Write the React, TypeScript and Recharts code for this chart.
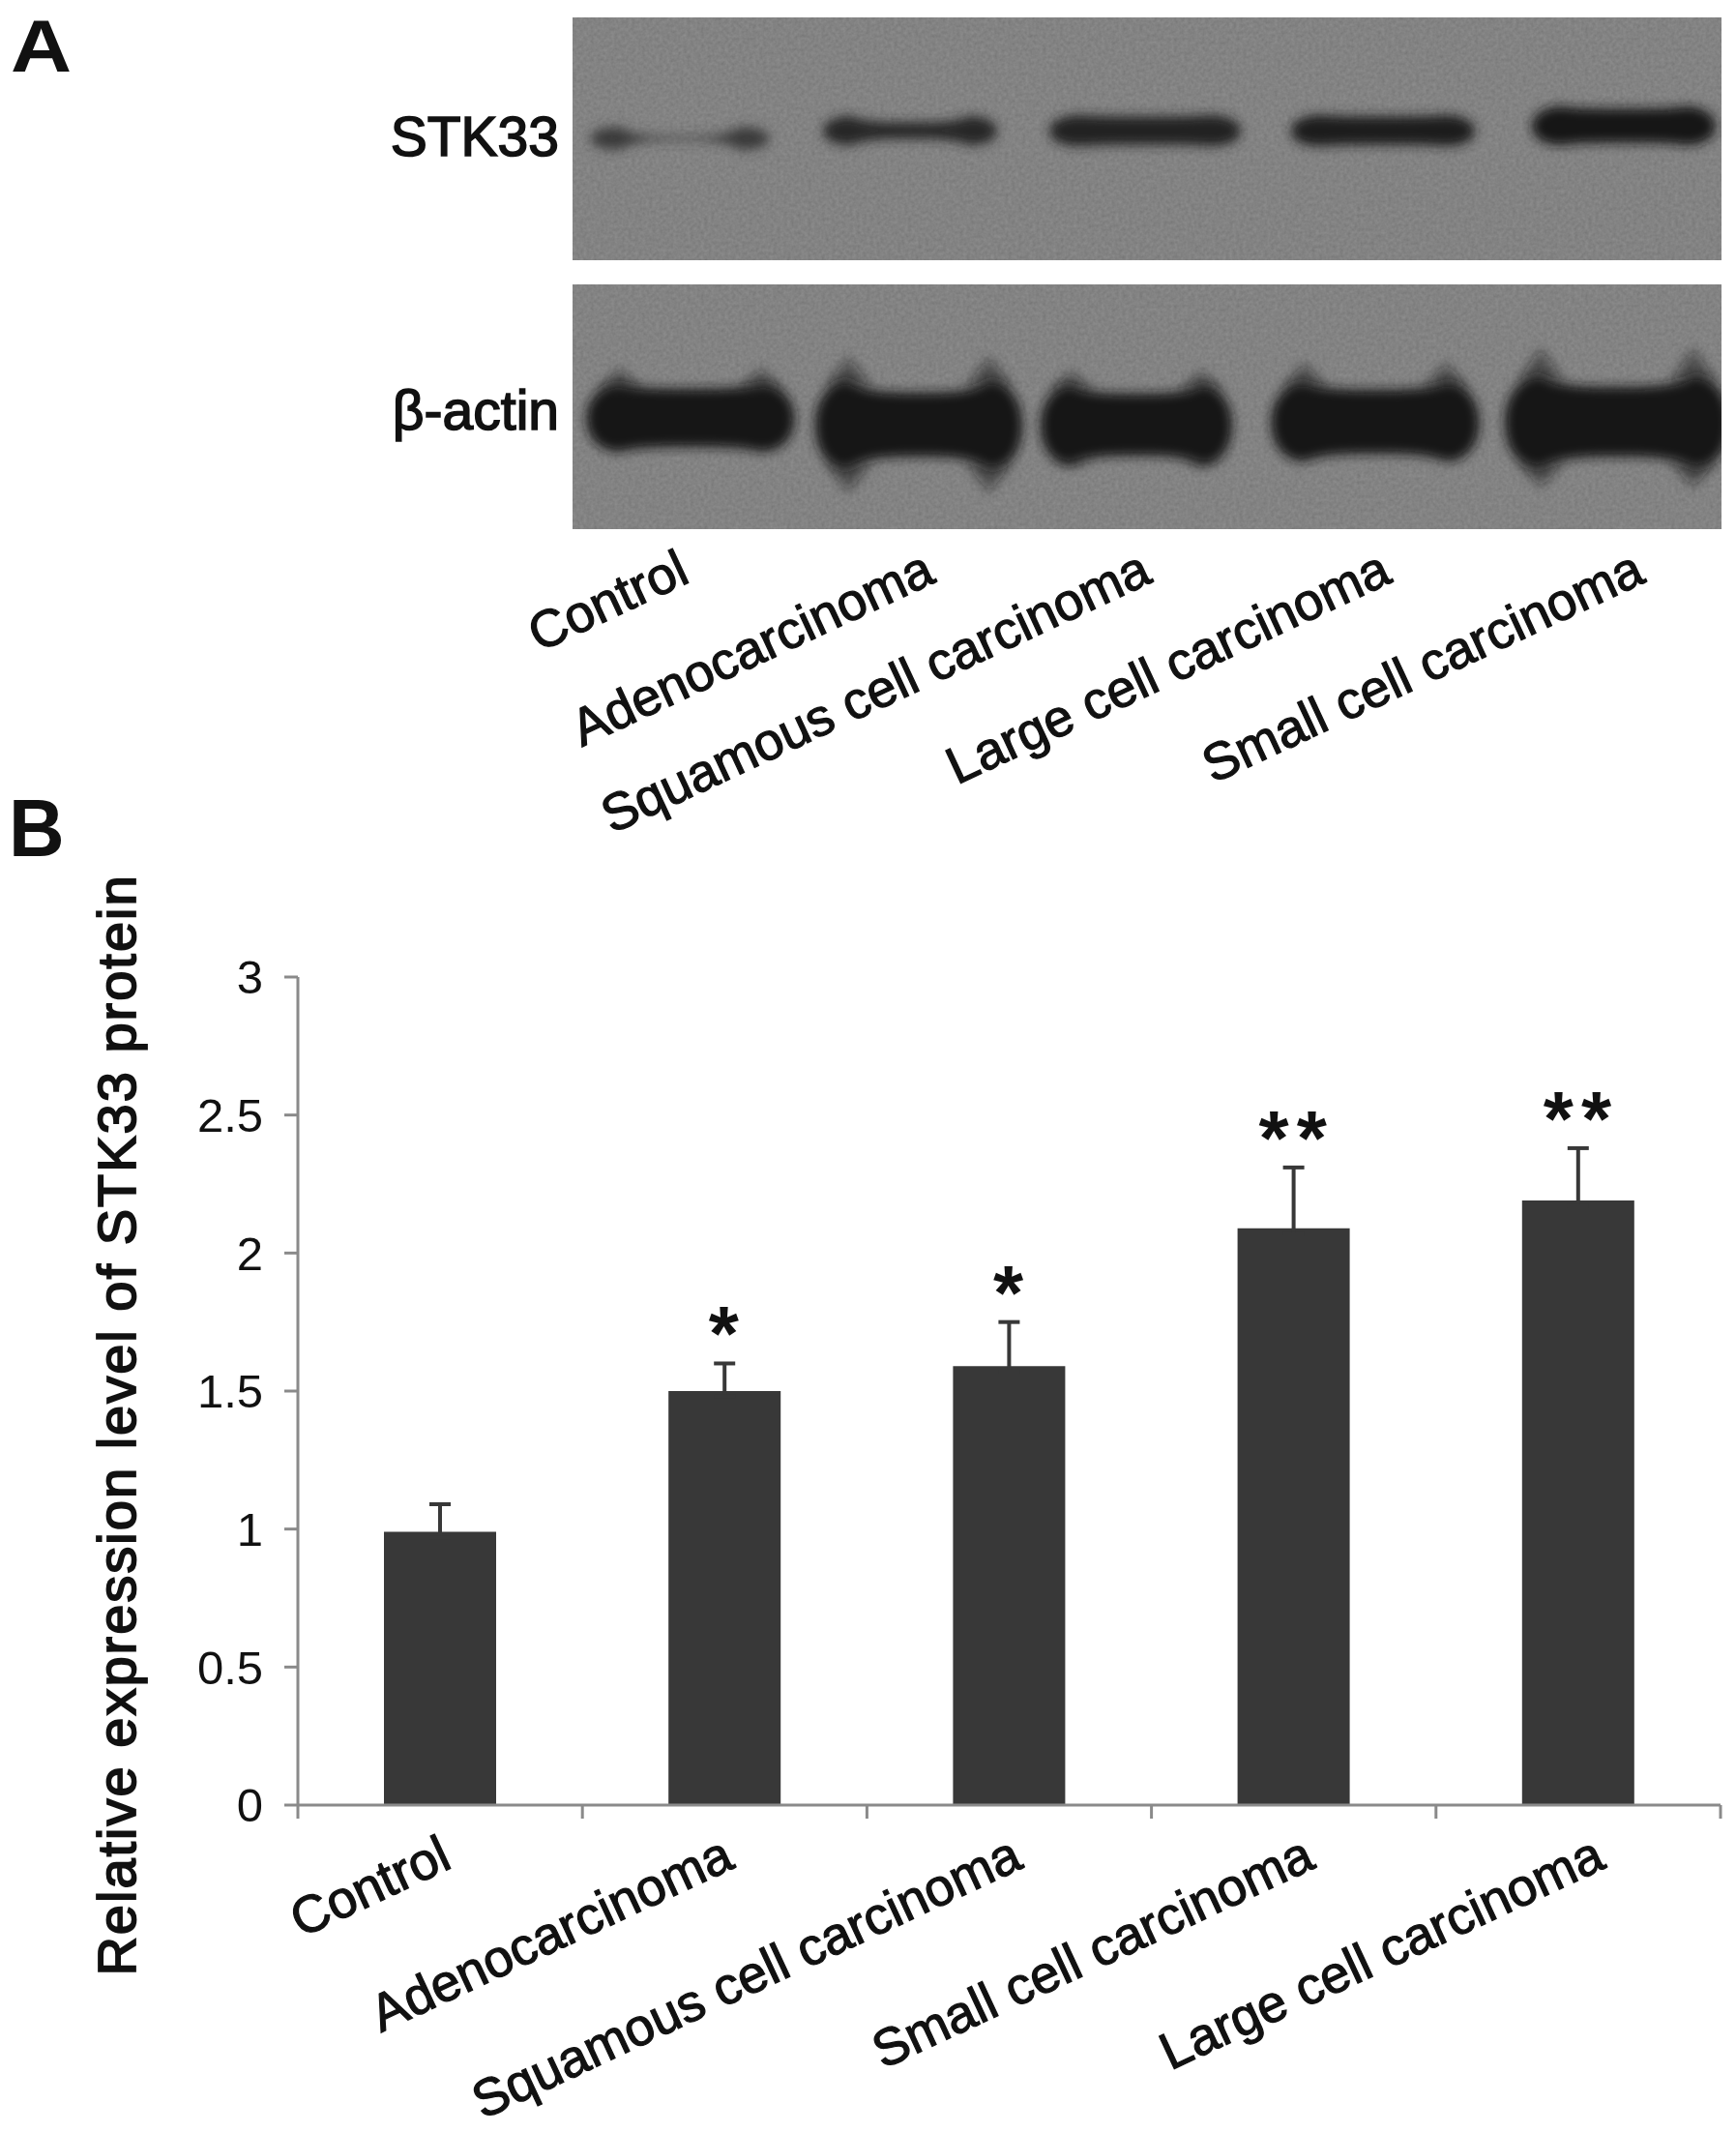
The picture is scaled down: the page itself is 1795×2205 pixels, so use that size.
import React from "react";
import {
  Bar,
  ComposedChart,
  ErrorBar,
  LabelList,
  Line,
  ReferenceArea,
  Scatter,
  ScatterChart,
  XAxis,
  YAxis,
} from "recharts";

const FONT = '"Liberation Sans", Arial, sans-serif';
const INK = "#111111";
const AXIS_GREY = "#8a8a8a";

// panel B
const categories = [
  "Control",
  "Adenocarcinoma",
  "Squamous cell carcinoma",
  "Small cell carcinoma",
  "Large cell carcinoma",
];
const expression = [0.99, 1.5, 1.59, 2.09, 2.19];
const errorUp = [0.1, 0.1, 0.16, 0.22, 0.19];
const stars = ["", "*", "*", "**", "**"];
const yTicks = [0, 0.5, 1, 1.5, 2, 2.5, 3];
const edgeTicks = [0, 1, 2, 3, 4, 5];

// panel A, measured along the membrane
const blotLabels = [
  "Control",
  "Adenocarcinoma",
  "Squamous cell carcinoma",
  "Large cell carcinoma",
  "Small cell carcinoma",
];
const blotLabelTicks = [123, 377, 601, 849, 1111];
const stkLane = [111, 349, 592, 838, 1087];
const stkSpan = [185, 180, 198, 190, 190];
const stkRow = [125, 117, 117, 117, 112];
const stkEdge = [24, 30, 32, 32, 40];
const stkMid = [4, 17, 29, 29, 35];
const stkTone = ["#3a3a3a", "#262626", "#202020", "#1c1c1c", "#181818"];
const stkWispUp = [0, 0, 0, 0, 0];
const stkWispDown = [0, 0, 0, 0, 0];
const actinLane = [122, 358, 583, 830, 1080];
const actinSpan = [215, 214, 198, 215, 232];
const actinRow = [138, 145, 145, 142, 142];
const actinEdge = [70, 92, 82, 82, 96];
const actinMid = [60, 66, 64, 66, 72];
const actinTone = ["#161616", "#161616", "#161616", "#161616", "#161616"];
const actinWispUp = [22, 30, 20, 26, 34];
const actinWispDown = [0, 30, 8, 0, 26];

// the labels of panel B do not sit quite under their bars in the original
const nameNudge = [-2, -4, 0, 8, 14];

const barData = categories.map((name, i) => ({
  name,
  edge: i,
  expression: expression[i],
  errorRange: [0.02, errorUp[i]],
  errorTop: expression[i] + errorUp[i],
  star: stars[i],
}));

const zip = (
  lane: number[],
  span: number[],
  row: number[],
  edge: number[],
  mid: number[],
  tone: string[],
  up: number[],
  down: number[]
) =>
  lane.map((v, i) => ({
    lane: v,
    span: span[i],
    row: row[i],
    edge: edge[i],
    mid: mid[i],
    tone: tone[i],
    up: up[i],
    down: down[i],
  }));

const stkData = zip(stkLane, stkSpan, stkRow, stkEdge, stkMid, stkTone, stkWispUp, stkWispDown);
const actinData = zip(actinLane, actinSpan, actinRow, actinEdge, actinMid, actinTone, actinWispUp, actinWispDown);

// a western blot band: wide at both lane edges, pinched in the middle
function BlotBand(props: any) {
  const { cx, cy, payload, clipId, blurId } = props;
  const w = payload.span;
  const e = payload.edge / 2;
  const m = payload.mid / 2;
  const l = cx - w / 2;
  const r = cx + w / 2;
  const h = w * 0.16;
  const d = [
    `M ${l} ${cy}`,
    `C ${l} ${cy - e * 0.6} ${l + h * 0.5} ${cy - e} ${l + h} ${cy - e}`,
    `C ${l + h * 1.5} ${cy - m} ${cx - w * 0.15} ${cy - m} ${cx} ${cy - m}`,
    `C ${cx + w * 0.15} ${cy - m} ${r - h * 1.5} ${cy - m} ${r - h} ${cy - e}`,
    `C ${r - h * 0.5} ${cy - e} ${r} ${cy - e * 0.6} ${r} ${cy}`,
    `C ${r} ${cy + e * 0.7} ${r - h * 0.5} ${cy + e} ${r - h} ${cy + e}`,
    `C ${r - h * 1.6} ${cy + m} ${cx + w * 0.15} ${cy + m} ${cx} ${cy + m}`,
    `C ${cx - w * 0.15} ${cy + m} ${l + h * 1.6} ${cy + m} ${l + h} ${cy + e}`,
    `C ${l + h * 0.5} ${cy + e} ${l} ${cy + e * 0.7} ${l} ${cy} Z`,
  ].join(" ");
  const wisp = (px: number, base: number, len: number) =>
    len !== 0 ? `M ${px - 24} ${base} L ${px} ${base + len} L ${px + 24} ${base} Z ` : "";
  const wisps =
    wisp(l + h, cy - e + 6, -payload.up) +
    wisp(r - h, cy - e + 6, -payload.up) +
    wisp(l + h, cy + e - 6, payload.down) +
    wisp(r - h, cy + e - 6, payload.down);
  return (
    <g clipPath={`url(#${clipId})`}>
      {wisps && <path d={wisps} fill={payload.tone} fillOpacity={0.5} filter={`url(#${blurId})`} />}
      <path d={d} fill={payload.tone} filter={`url(#${blurId})`} />
    </g>
  );
}

function SlantedTick(props: any) {
  const { x, y, payload, names, values, dx, dy, fontSize, index, nudge } = props;
  const label = names ? names[values.indexOf(payload.value)] : payload.value;
  const shift = nudge ? nudge[index] : 0;
  return (
    <text
      transform={`translate(${x + dx + shift},${y + dy}) rotate(-25)`}
      textAnchor="end"
      fontFamily={FONT}
      fontSize={fontSize}
      fill={INK}
      stroke={INK}
      strokeWidth={1.2}
    >
      {label}
    </text>
  );
}

function BlotDefs({ id, blur, x, width, height }: any) {
  return (
    <defs>
      <clipPath id={`clip-${id}`}>
        <rect x={x} y={0} width={width} height={height} />
      </clipPath>
      <filter id={`blur-${id}`} x="-30%" y="-100%" width="160%" height="300%">
        <feGaussianBlur stdDeviation={blur} />
      </filter>
      <filter id={`grain-${id}`} x="0" y="0" width="1" height="1">
        <feTurbulence type="fractalNoise" baseFrequency="0.28" numOctaves="2" seed="4" result="n" />
        <feColorMatrix
          in="n"
          type="matrix"
          values="1 0 0 0 0  1 0 0 0 0  1 0 0 0 0  0 0 0 0 0.1"
          result="g"
        />
        <feMerge>
          <feMergeNode in="SourceGraphic" />
          <feMergeNode in="g" />
        </feMerge>
      </filter>
    </defs>
  );
}

const blotYTick = (label: string) => (props: any) => (
  <text
    x={props.x}
    y={props.y}
    dy={20}
    textAnchor="end"
    fontFamily={FONT}
    fontSize={57}
    fill={INK}
    stroke={INK}
    strokeWidth={1.6}
  >
    {label}
  </text>
);

const axisStyle = { stroke: AXIS_GREY, strokeWidth: 3 };

export default function App() {
  return (
    <div style={{ position: "absolute", left: 0, top: 0, width: 1795, height: 2205, background: "#fff" }}>
      <div
        style={{
          position: "absolute",
          left: 11,
          top: 10,
          fontFamily: FONT,
          fontWeight: 700,
          fontSize: 76,
          lineHeight: 1,
          color: INK,
          transform: "scaleX(1.15)",
          transformOrigin: "left top",
        }}
      >
        A
      </div>
      <div
        style={{
          position: "absolute",
          left: 9,
          top: 814,
          fontFamily: FONT,
          fontWeight: 700,
          fontSize: 84,
          lineHeight: 1,
          color: INK,
          transform: "scaleX(0.95)",
          transformOrigin: "left top",
        }}
      >
        B
      </div>

      <div style={{ position: "absolute", left: 0, top: 18 }}>
        <ScatterChart width={1795} height={251} margin={{ top: 0, right: 15, bottom: 0, left: 0 }}>
          <BlotDefs id="stk" blur={6} x={592} width={1188} height={251} />
          <XAxis type="number" dataKey="lane" domain={[0, 1188]} hide />
          <YAxis
            type="number"
            dataKey="row"
            domain={[0, 251]}
            reversed
            width={592}
            ticks={[123]}
            axisLine={false}
            tickLine={false}
            tickMargin={8}
            tick={blotYTick("STK33")}
          />
          <ReferenceArea x1={0} x2={1188} y1={0} y2={251} fill="#7a7a7a" fillOpacity={1} stroke="none" filter="url(#grain-stk)" />
          <Scatter
            data={stkData}
            isAnimationActive={false}
            shape={(p: any) => <BlotBand {...p} clipId="clip-stk" blurId="blur-stk" />}
          />
        </ScatterChart>
      </div>

      <div style={{ position: "absolute", left: 0, top: 294 }}>
        <ScatterChart width={1795} height={588} margin={{ top: 0, right: 15, bottom: 0, left: 0 }}>
          <BlotDefs id="actin" blur={6} x={592} width={1188} height={253} />
          <XAxis
            type="number"
            dataKey="lane"
            domain={[0, 1188]}
            ticks={blotLabelTicks}
            interval={0}
            height={335}
            axisLine={false}
            tickLine={false}
            tick={(p: any) => (
              <SlantedTick {...p} names={blotLabels} values={blotLabelTicks} dx={0} dy={46} fontSize={54} />
            )}
          />
          <YAxis
            type="number"
            dataKey="row"
            domain={[0, 253]}
            reversed
            width={592}
            ticks={[130]}
            axisLine={false}
            tickLine={false}
            tickMargin={8}
            tick={blotYTick("β-actin")}
          />
          <ReferenceArea x1={0} x2={1188} y1={0} y2={253} fill="#7a7a7a" fillOpacity={1} stroke="none" filter="url(#grain-actin)" />
          <Scatter
            data={actinData}
            isAnimationActive={false}
            shape={(p: any) => <BlotBand {...p} clipId="clip-actin" blurId="blur-actin" />}
          />
        </ScatterChart>
      </div>

      <div style={{ position: "absolute", left: 0, top: 890 }}>
        <ComposedChart
          width={1795}
          height={1315}
          data={barData}
          margin={{ top: 120, right: 16, bottom: 0, left: 0 }}
        >
          <XAxis
            xAxisId="edges"
            type="number"
            dataKey="edge"
            domain={[0, 5]}
            ticks={edgeTicks}
            interval={0}
            height={14}
            tickSize={14}
            axisLine={axisStyle}
            tickLine={axisStyle}
            tickFormatter={() => ""}
            allowDataOverflow
          />
          <XAxis
            xAxisId="names"
            dataKey="name"
            interval={0}
            height={325}
            axisLine={false}
            tickLine={false}
            tick={(p: any) => <SlantedTick {...p} dx={16} dy={42} fontSize={54} nudge={nameNudge} />}
          />
          <YAxis
            domain={[0, 3]}
            ticks={yTicks}
            interval={0}
            width={308}
            tickSize={14}
            tickMargin={22}
            axisLine={axisStyle}
            tickLine={axisStyle}
            tick={{ fill: INK, stroke: "none", fontSize: 49, fontFamily: FONT }}
            label={{
              content: () => (
                <text
                  transform="translate(140,583) rotate(-90)"
                  textAnchor="middle"
                  fontFamily={FONT}
                  fontSize={56}
                  letterSpacing={2}
                  fill={INK}
                  stroke={INK}
                  strokeWidth={1.8}
                >
                  Relative expression level of STK33 protein
                </text>
              ),
            }}
          />
          <Bar xAxisId="names" dataKey="expression" fill="#383838" barSize={116} isAnimationActive={false}>
            <ErrorBar dataKey="errorRange" direction="y" width={11} stroke="#383838" strokeWidth={4} isAnimationActive={false} />
          </Bar>
          <Line
            xAxisId="names"
            dataKey="errorTop"
            stroke="none"
            dot={false}
            activeDot={false}
            legendType="none"
            isAnimationActive={false}
          >
            <LabelList
              dataKey="star"
              position="top"
              offset={3}
              dx={3}
              fill={INK}
              fontFamily={FONT}
              fontWeight={700}
              fontSize={80}
              letterSpacing={8}
            />
          </Line>
        </ComposedChart>
      </div>
    </div>
  );
}
